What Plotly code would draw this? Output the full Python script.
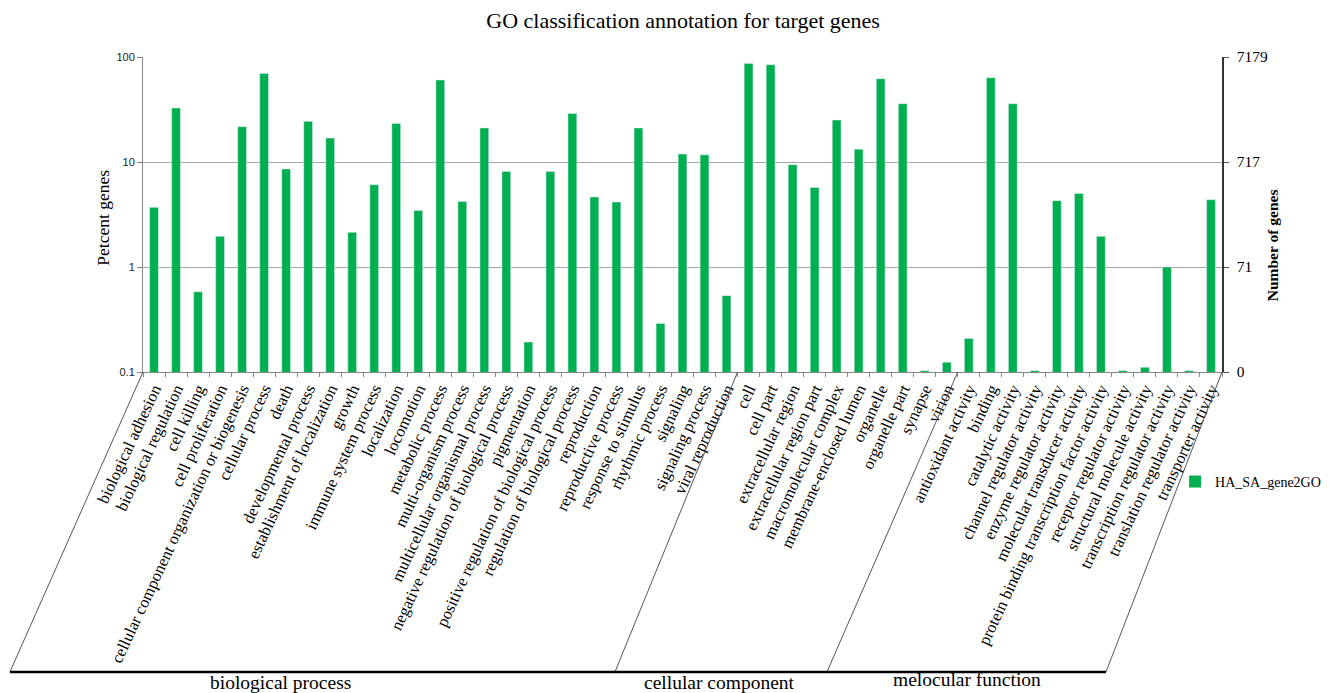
import plotly.graph_objects as go

# GO terms, grouped by ontology
bp_terms = [
    "biological adhesion", "biological regulation", "cell killing", "cell proliferation",
    "cellular component organization or biogenesis", "cellular process", "death",
    "developmental process", "establishment of localization", "growth",
    "immune system process", "localization", "locomotion", "metabolic process",
    "multi-organism process", "multicellular organismal process",
    "negative regulation of biological process", "pigmentation",
    "positive regulation of biological process", "regulation of biological process",
    "reproduction", "reproductive process", "response to stimulus", "rhythmic process",
    "signaling", "signaling process", "viral reproduction",
]
cc_terms = [
    "cell", "cell part", "extracellular region", "extracellular region part",
    "macromolecular complex", "membrane-enclosed lumen", "organelle", "organelle part",
    "synapse", "virion",
]
mf_terms = [
    "antioxidant activity", "binding", "catalytic activity", "channel regulator activity",
    "enzyme regulator activity", "molecular transducer activity",
    "protein binding transcription factor activity", "receptor regulator activity",
    "structural molecule activity", "transcription regulator activity",
    "translation regulator activity", "transporter activity",
]

# Percent of annotated genes per term
bp_percent = [3.7, 32.7, 0.58, 1.96, 21.7, 69.8, 8.6, 24.4, 16.9, 2.14, 6.08, 23.3, 3.46,
              60.4, 4.2, 21.1, 8.14, 0.193, 8.14, 29.0, 4.64, 4.16, 21.1, 0.29, 11.9, 11.7, 0.533]
cc_percent = [86.9, 84.5, 9.43, 5.73, 25.1, 13.2, 62.1, 35.9, 0.103, 0.124]
mf_percent = [0.209, 63.5, 35.9, 0.103, 4.28, 5.02, 1.96, 0.103, 0.111, 1.0, 0.103, 4.37]

group_names = ["biological process", "cellular component", "melocular function"]

left_tickvals = [0.1, 1, 10, 100]
left_ticktext = ["0.1", "1", "10", "100"]
right_ticktext = ["0", "71", "717", "7179"]

series_name = "HA_SA_gene2GO"

categories = bp_terms + cc_terms + mf_terms
percent = bp_percent + cc_percent + mf_percent

GREEN = "#00b050"
SERIF = "Liberation Serif, Times New Roman, serif"
SANS = "Liberation Sans, Arial, sans-serif"
GRID = "#a6a6a6"

fig = go.Figure()
fig.add_trace(go.Bar(
    x=categories, y=percent, name=series_name,
    marker=dict(color=GREEN, line=dict(width=0)),
    width=0.4,
))
# same bars on the gene-count axis (transparent) so the right axis is drawn
fig.add_trace(go.Bar(
    x=categories, y=percent, yaxis="y2", showlegend=False,
    marker=dict(color="rgba(0,0,0,0)"), width=0.4, hoverinfo="skip",
))

# Parallelogram frame under the category labels: slanted group separators.
# Top ends sit on the category boundaries (paper units along the x domain).
n_all = len(categories)
n_bp, n_cc = len(bp_terms), len(cc_terms)
tops = [0.0, n_bp / n_all, (n_bp + n_cc) / n_all, 1.0]
bottoms = [-0.1233, 0.4374, 0.6339, 0.8925]
frame_y = -0.952
shapes = []
for xt, xb in zip(tops, bottoms):
    shapes.append(dict(type="line", xref="paper", yref="paper", x0=xt, y0=0, x1=xb, y1=frame_y,
                       line=dict(color="#555555", width=1)))
shapes.append(dict(type="line", xref="paper", yref="paper", x0=bottoms[0], y0=frame_y,
                   x1=bottoms[-1], y1=frame_y, line=dict(color="black", width=2.5)))

# Group names under the frame
group_pos = [(0.1270, -0.986), (0.5339, -0.986), (0.7637, -0.976)]
annotations = []
for (gx, gy), gname in zip(group_pos, group_names):
    annotations.append(dict(xref="paper", yref="paper", x=gx, y=gy, text=gname,
                            showarrow=False, xanchor="center", yanchor="middle",
                            font=dict(family=SERIF, size=19.5, color="black")))

annotations.append(dict(xref="paper", yref="paper", x=-0.037, y=0.49, text="Petcent genes",
                        textangle=-90, showarrow=False, xanchor="center", yanchor="middle",
                        font=dict(family=SERIF, size=17.5, color="black")))
annotations.append(dict(xref="paper", yref="paper", x=1.0465, y=0.403, text="<b>Number of genes</b>",
                        textangle=-90, showarrow=False, xanchor="center", yanchor="middle",
                        font=dict(family=SERIF, size=15.5, color="black")))

fig.update_layout(
    width=1329, height=693,
    margin=dict(l=143, r=107, t=57, b=321, autoexpand=False),
    paper_bgcolor="white", plot_bgcolor="white",
    bargap=0.6,
    title=dict(text="GO classification annotation for target genes", x=0.514, xanchor="center",
               y=0.97, yanchor="middle", font=dict(family=SERIF, size=22, color="black")),
    xaxis=dict(
        type="category", tickangle=-65, tickfont=dict(family=SERIF, size=16.5, color="black"),
        showline=True, linecolor="#888888", linewidth=1,
        ticks="outside", tickson="boundaries", ticklen=4, tickcolor="#888888",
        showgrid=False, automargin=False, range=[-0.5, n_all - 0.5],
    ),
    yaxis=dict(
        type="log", range=[-1, 2], tickvals=left_tickvals, ticktext=left_ticktext,
        tickfont=dict(family=SANS, size=11, color="#222222"),
        showgrid=True, gridcolor=GRID, gridwidth=1,
        showline=True, linecolor="#888888", linewidth=1,
        ticks="outside", ticklen=5, tickcolor="#888888", automargin=False, zeroline=False,
    ),
    yaxis2=dict(
        type="log", range=[-1, 2], overlaying="y", side="right",
        tickvals=left_tickvals, ticktext=right_ticktext,
        tickfont=dict(family=SERIF, size=15.5, color="black"),
        showgrid=False, showline=True, linecolor="#333333", linewidth=1.5,
        ticks="outside", ticklen=5, tickcolor="#555555", ticklabelstandoff=5,
        automargin=False, zeroline=False,
    ),
    showlegend=True,
    legend=dict(x=0.9565, y=-0.349, xanchor="left", yanchor="middle",
                font=dict(family=SERIF, size=14, color="black"),
                bgcolor="rgba(0,0,0,0)", itemwidth=30),
    shapes=shapes,
    annotations=annotations,
)

fig.write_html("out.html")
